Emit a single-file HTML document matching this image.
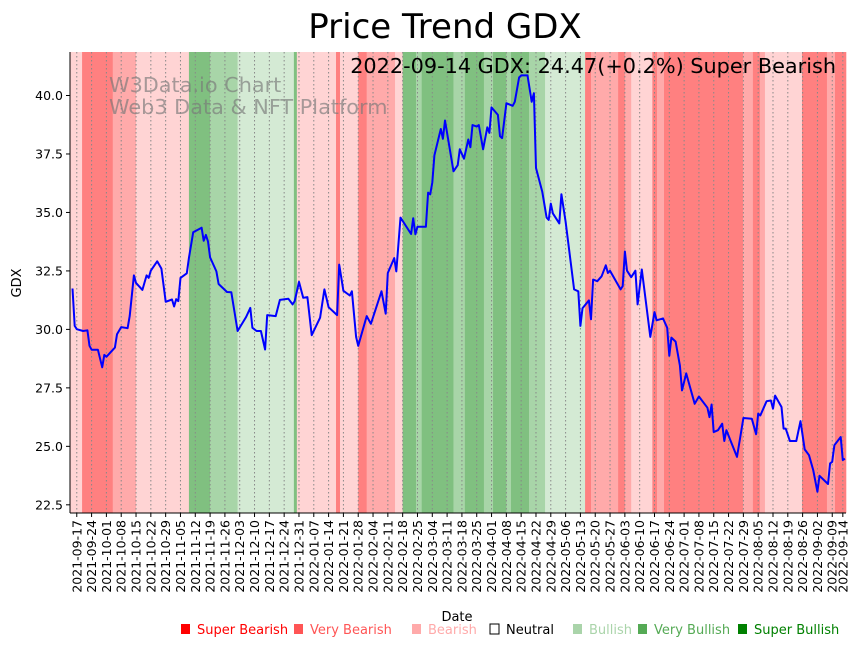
<!DOCTYPE html>
<html><head><meta charset="utf-8"><style>
html,body{margin:0;padding:0;background:#fff;}
svg{display:block;font-family:"DejaVu Sans","Liberation Sans",sans-serif;}
</style></head><body>
<svg id="chart" width="864" height="646" viewBox="0 0 864 646">
<text x="445" y="38" font-size="34" text-anchor="middle" fill="#000">Price Trend GDX</text>
<g id="bands"></g>
<g id="grid"></g>
<text x="109" y="92" font-size="20.8" fill="rgba(120,120,120,0.65)">W3Data.io Chart</text>
<text x="109" y="114" font-size="20.8" fill="rgba(120,120,120,0.65)">Web3 Data &amp; NFT Platform</text>
<g id="line"></g>
<text x="836" y="73" font-size="20.8" text-anchor="end" fill="#000">2022-09-14 GDX: 24.47(+0.2%) Super Bearish</text>
<g id="axes"></g>
<text transform="translate(21,283) rotate(-90)" font-size="13" text-anchor="middle">GDX</text>
<text x="457" y="621" font-size="13" text-anchor="middle">Date</text>
<g id="legend"></g>
</svg>
<script>
const dayOffsets=[-2,-1,0,3,5,6,7,10,12,13,14,18,19,21,24,25,27,28,31,33,34,35,38,40,42,45,46,47,48,49,52,53,55,59,60,61,62,63,66,67,71,73,76,80,82,83,85,87,89,90,94,96,100,102,103,105,107,109,111,115,117,119,123,124,126,129,130,132,133,137,139,144,146,147,150,151,153,158,159,160,161,165,166,167,168,169,172,173,174,178,180,181,183,185,186,187,189,190,192,194,195,196,199,200,201,203,206,207,209,210,213,215,216,217,220,222,223,224,225,228,229,231,235,237,238,239,242,243,244,246,248,250,251,252,257,258,259,260,262,264,265,267,271,273,274,277,279,280,281,283,285,286,288,292,294,298,299,300,301,303,305,306,307,312,315,319,321,322,323,326,328,329,330,333,334,335,337,340,342,344,346,348,350,351,355,356,357,358,361,362,363];
const prices=[31.75,30.15,30.01,29.93,29.96,29.30,29.13,29.13,28.38,28.91,28.83,29.22,29.79,30.10,30.05,30.57,32.31,31.99,31.69,32.31,32.20,32.51,32.91,32.60,31.18,31.28,30.98,31.29,31.21,32.20,32.40,33.05,34.15,34.35,33.79,34.04,33.76,33.08,32.48,31.94,31.60,31.59,29.93,30.53,30.92,30.07,29.93,29.93,29.14,30.61,30.57,31.26,31.31,31.07,31.21,32.03,31.35,31.38,29.75,30.50,31.71,30.95,30.61,32.77,31.65,31.45,31.63,29.68,29.30,30.57,30.24,31.63,30.67,32.41,33.05,32.48,34.78,34.08,34.75,34.07,34.39,34.39,35.85,35.77,36.28,37.44,38.57,38.15,38.93,36.76,37.02,37.70,37.30,38.12,37.79,38.74,38.67,38.74,37.70,38.64,38.40,39.49,39.17,38.26,38.18,39.67,39.56,39.73,40.77,40.86,40.86,39.73,40.10,36.90,35.88,34.78,34.68,35.38,34.96,34.53,35.78,34.61,31.71,31.63,30.15,30.90,31.24,30.43,32.13,32.06,32.27,32.74,32.41,32.51,31.71,31.85,33.33,32.51,32.23,32.51,31.07,32.56,29.68,30.74,30.39,30.47,30.07,28.87,29.65,29.48,28.45,27.39,28.12,26.82,27.13,26.65,26.25,26.79,25.61,25.69,25.97,25.23,25.69,24.55,26.21,26.18,25.52,26.40,26.32,26.93,26.96,26.61,27.17,26.68,25.76,25.76,25.23,25.23,26.08,24.87,24.62,23.99,23.06,23.74,23.39,24.27,24.34,25.05,25.40,24.41,24.47];
const bandStarts=[-3.2,2.5,17,28,53,63,76,102.6,104,122.5,124.4,133,137,150.4,154,160.3,163,178,183.4,192.4,196.7,203,205.2,213.7,221.3,240.2,243,255.8,259,262,272,274.2,277.5,314.8,319.5,322.8,325.2,342.7,354.5,358.3];
const bandEnds=[2.5,17,28,53,63,76,102.6,104,122.5,124.4,133,137,150.4,154,160.3,163,178,183.4,192.4,196.7,203,205.2,213.7,221.3,240.2,243,255.8,259,262,272,274.2,277.5,314.8,319.5,322.8,325.2,342.7,354.5,358.3,363.6];
const bandLevels=[-1,-3,-2,-1,3,2,1,3,-1,-3,-1,-3,-2,-1,3,2,3,2,3,2,3,2,3,2,1,-3,-2,-3,-2,-1,-3,-2,-3,-2,-3,-2,-1,-3,-2,-3];
const yTicks=[22.5,25.0,27.5,30.0,32.5,35.0,37.5,40.0];
const legendLabels=["Super Bearish","Very Bearish","Bearish","Neutral","Bullish","Very Bullish","Super Bullish"];

const NS="http://www.w3.org/2000/svg";
const L=70,R=846,T=52,B=513;
const d0=-3.2,d1=363.5,v0=22.15,v1=41.86;
function xs(d){return L+(d-d0)/(d1-d0)*(R-L);}
function ys(v){return B-(v-v0)/(v1-v0)*(B-T);}
function mk(tag,attrs,parent){const e=document.createElementNS(NS,tag);for(const k in attrs)e.setAttribute(k,attrs[k]);parent.appendChild(e);return e;}
const bandColor={"-3":"#ff8080","-2":"#ffaaaa","-1":"#ffd4d4","0":"#ffffff","1":"#d4ead4","2":"#a8d5a8","3":"#80c080"};

const bands=document.getElementById('bands');
for(let i=0;i<bandStarts.length;i++){
  const x0=Math.max(L,xs(bandStarts[i])),x1=Math.min(R,xs(bandEnds[i]));
  const r=mk('rect',{x:x0,y:T,width:Math.max(0,x1-x0+0.3),height:B-T,fill:bandColor[String(bandLevels[i])]},bands);
  
  
}

const grid=document.getElementById('grid');
const axes=document.getElementById('axes');
const base=Date.UTC(2021,8,17);
function fmt(days){const d=new Date(base+days*86400000);return d.toISOString().slice(0,10);}
const tickDays=[];for(let d=0;d<=357;d+=7)tickDays.push(d);tickDays.push(362);
tickDays.forEach(d=>{
  const x=xs(d);
  const g=mk('line',{x1:x,x2:x,y1:T,y2:B,stroke:'#888','stroke-width':1,'stroke-dasharray':'1.5,2.5'},grid);
  
  
  const t=mk('line',{x1:x,x2:x,y1:B,y2:B+4,stroke:'#000','stroke-width':1},axes);
  
  
  const lab=mk('text',{transform:`translate(${x+4.5},${B+7}) rotate(-90)`,'font-size':12.5,'text-anchor':'end'},axes);
  lab.textContent=fmt(d);
  
  
});
yTicks.forEach(v=>{
  const y=ys(v);
  const t=mk('line',{x1:L-4,x2:L,y1:y,y2:y,stroke:'#000','stroke-width':1},axes);
  
  
  const lab=mk('text',{x:L-7,y:y+4.5,'font-size':12.5,'text-anchor':'end'},axes);
  lab.textContent=v.toFixed(1);
  
  
});
const ax1=mk('line',{x1:L,x2:L,y1:T,y2:B,stroke:'#000','stroke-width':1},axes);


const ax2=mk('line',{x1:L,x2:R,y1:B,y2:B,stroke:'#000','stroke-width':1},axes);



const lineG=document.getElementById('line');
const pts=dayOffsets.map((d,i)=>xs(d).toFixed(1)+','+ys(prices[i]).toFixed(1)).join(' ');
const pl=mk('polyline',{points:pts,fill:'none',stroke:'#0000ff','stroke-width':2,'stroke-linejoin':'round'},lineG);



const legend=document.getElementById('legend');
const legColors=["#ff0000","#ff5555","#ffaaaa","none","#aad4aa","#55aa55","#008000"];
const legTextColors=["#ff0000","#ff5555","#ffaaaa","#000","#aad4aa","#55aa55","#008000"];
const legX=[181,294,412,490,573,638,738];
legendLabels.forEach((lab,i)=>{
  const g=mk('g',{},legend);
  
  
  mk('rect',{x:legX[i],y:624,width:9,height:10,fill:legColors[i],stroke:i===3?'#000':'none','stroke-width':1},g);
  const t=mk('text',{x:legX[i]+16,y:634,'font-size':13,fill:legTextColors[i]},g);
  t.textContent=lab;
});
</script>
</body></html>
